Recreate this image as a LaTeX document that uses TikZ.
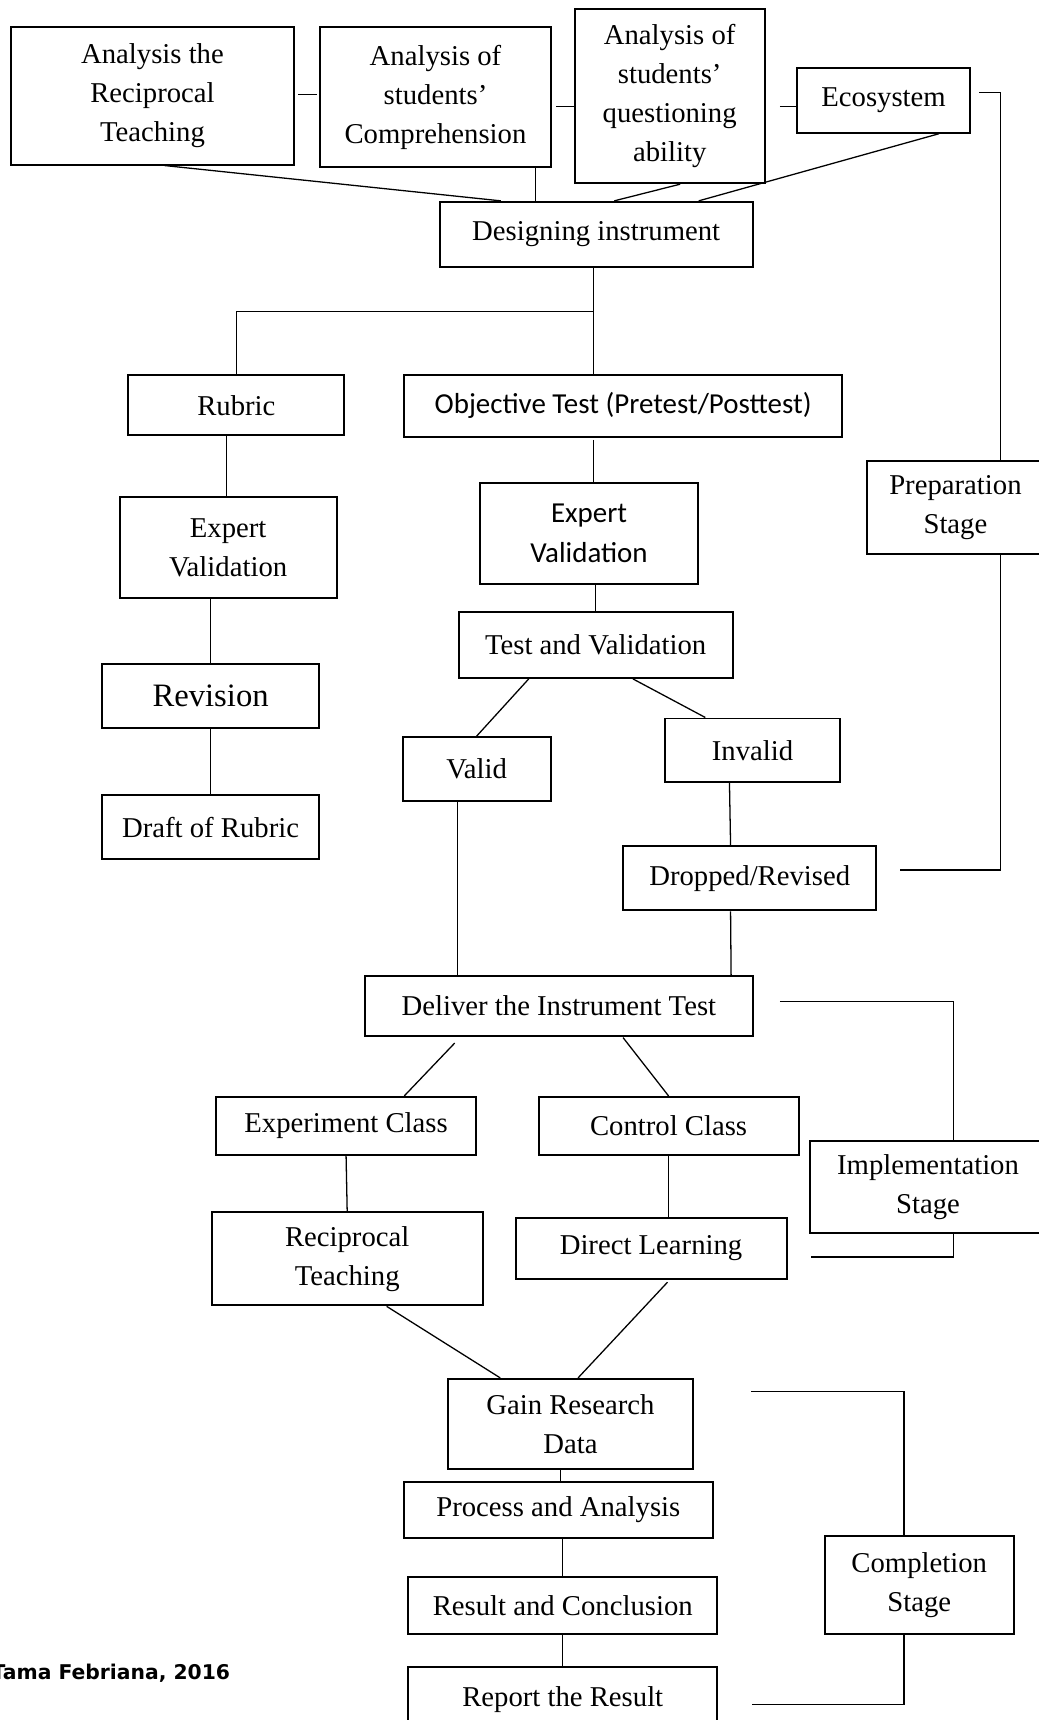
\documentclass[tikz,border=0pt]{standalone}
\usepackage{fontspec}
\setmainfont{Liberation Serif}
\newfontfamily\calibrifont{Carlito}
\newfontfamily\notefont{DejaVu Sans}
\usetikzlibrary{calc,positioning}

\begin{document}
\begin{tikzpicture}[x=0.47pt,y=-0.47pt,
		box/.style={draw,line width=0.85pt,align=center,inner sep=0pt,
			font=\fontsize{12.3}{16.7}\selectfont},
		sz/.style 2 args={minimum width=#1*0.47pt,minimum height=#2*0.47pt},
		sans/.style={font=\calibrifont\fontsize{12.4}{17}\selectfont},
		link/.style={line width=0.55pt}]
	\useasboundingbox (0,0) rectangle (947,1568);
	% preparation stage
	\node[box,sz={258}{125}] (recip) at (139,87.5) {Analysis the\\Reciprocal\\Teaching};
	\node[box,sz={210}{127}] (compr) at (397,88.5) {Analysis of\\students’\\Comprehension};
	\node[box,sz={173}{159}] (quest) at (610.5,87.5) {Analysis of\\students’\\questioning\\ability};
	\node[box,sz={157}{59}] (eco) at (805.5,91.5) {Ecosystem};
	\node[box,sz={285}{59}] (design) at (543.5,213.5) {Designing instrument};
	\node[box,sz={197}{55}] (rubric) at (215.5,369.5) {Rubric};
	\node[box,sans,sz={400}{56}] (objtest) at (568,370) {Objective Test (Pretest/Posttest)};
	\node[box,sz={198}{92}] (expertL) at (208,499) {Expert\\Validation};
	\node[box,sans,sz={198}{92}] (expertR) at (537,486) {Expert\\Validation};
	\node[box,sz={162}{85}] (prep) at (871,462.5) {Preparation\\Stage};
	\node[box,sz={198}{59},font=\fontsize{14}{17}\selectfont] (revision) at (192,634.5) {Revision};
	\node[box,sz={198}{58}] (draft) at (192,754) {Draft of Rubric};
	\node[box,sz={250}{60}] (testval) at (543,588) {Test and Validation};
	\node[box,sz={135}{58}] (valid) at (434.5,701) {Valid};
	\node[box,sz={160}{58}] (invalid) at (686,684) {Invalid};
	\node[box,sz={231}{59}] (dropped) at (683.5,800.5) {Dropped/Revised};
	% implementation stage
	\node[box,sz={353}{54}] (deliver) at (509.5,917) {Deliver the Instrument Test};
	\node[box,sz={216}{84}] (impl) at (846,1082) {Implementation\\Stage};
	\node[box,sz={237}{53}] (expclass) at (315.5,1026.5) {Experiment Class};
	\node[box,sz={237}{53}] (ctrlclass) at (609.5,1026.5) {Control Class};
	\node[box,sz={247}{85}] (recteach) at (316.5,1147.5) {Reciprocal\\Teaching};
	\node[box,sz={247}{56}] (direct) at (593.5,1138) {Direct Learning};
	% completion stage
	\node[box,sz={224}{82}] (gain) at (520,1298) {Gain Research\\Data};
	\node[box,sz={282}{51}] (process) at (509,1376.5) {Process and Analysis};
	\node[box,sz={282}{52}] (result) at (513,1464) {Result and Conclusion};
	\node[box,sz={282}{58}] (report) at (513,1549) {Report the Result};
	\node[box,sz={172}{90}] (compl) at (838,1445) {Completion\\Stage};
	\node[anchor=base west,inner sep=0pt,font=\notefont\bfseries\fontsize{8.7}{10}\selectfont] (note) at (-8,1531) {Tama Febriana, 2016};

	\draw[link] ($(recip.east)+(3,-1.5)$) -- ++(17,0);
	\draw[link] ($(compr.east)+(4,8.5)$) -- ++(16,0);
	\draw[link] ($(quest.east)+(13,9.5)$) -- ++(15,0);
	\draw[link] ($(eco.east)+(8,-7.5)$) -| ($(prep.north)+(41,0)$);
	\draw[link] ($(prep.south)+(41,0)$) |- ($(dropped.east)+(21,-7.5)$);
	\draw[link] ($(recip.south)+(11,0)$) -- ($(design.north)+(-87,0)$);
	\draw[link] ($(compr.south)+(91,0)$) coordinate (c1) -- (c1 |- design.north);
	\draw[link] ($(quest.south)+(9.5,0)$) -- ($(design.north)+(16.5,0)$);
	\draw[link] ($(eco.south)+(50.5,0)$) -- ($(design.north)+(93.5,0)$);
	\draw[link] ($(design.south)+(-2.5,0)$) coordinate (d1) -- (d1 |- objtest.north);
	\coordinate (br) at ($(d1)+(0,40)$);
	\draw[link] (br) -| (rubric.north);
	\draw[link] ($(objtest.south)+(-27,2)$) coordinate (o1) -- (o1 |- expertR.north);
	\draw[link] ($(rubric.south)+(-9,0)$) coordinate (r1) -- (r1 |- expertL.north);
	\draw[link] (revision.north |- expertL.south) -- (revision.north);
	\draw[link] (revision.south) -- (draft.north);
	\draw[link] (testval.north |- expertR.south) -- (testval.north);
	\draw[link] ($(testval.south)+(-61,0)$) -- (valid.north);
	\draw[link] ($(testval.south)+(34,0)$) -- ($(invalid.north)+(-43,0)$);
	\draw[link] ($(invalid.south)+(-21,0)$) -- ($(dropped.north)+(-17.5,0)$);
	\draw[link] ($(valid.south)+(-17.5,0)$) coordinate (v1) -- (v1 |- deliver.north);
	\draw[link] ($(dropped.south)+(-17.5,0)$) -- ($(deliver.north)+(157,0)$);
	\draw[link] ($(deliver.east)+(24,-4)$) -| ($(impl.north)+(23,0)$);
	\draw[link] ($(impl.south)+(23,0)$) |- ($(direct.east)+(21,8)$);
	\draw[link] ($(deliver.south)+(-95,6)$) -- ($(expclass.north)+(53,0)$);
	\draw[link] ($(deliver.south)+(58.5,1)$) -- (ctrlclass.north);
	\draw[link] (expclass.south) -- (recteach.north);
	\draw[link] (ctrlclass.south) -- (ctrlclass.south |- direct.north);
	\draw[link] ($(recteach.south)+(36,0)$) -- ($(gain.north)+(-64,0)$);
	\draw[link] ($(direct.south)+(15,2)$) -- ($(gain.north)+(7,0)$);
	\draw[link] ($(gain.south)+(-9,0)$) coordinate (g1) -- (g1 |- process.north);
	\draw[link] (result.north |- process.south) -- (result.north);
	\draw[link] (result.south) -- (report.north);
	\draw[link] ($(gain.east)+(52,-29.5)$) -| ($(compl.north)+(-14,0)$);
	\draw[link] ($(compl.south)+(-14,0)$) |- ($(report.east)+(31,5)$);
\end{tikzpicture}
\end{document}
